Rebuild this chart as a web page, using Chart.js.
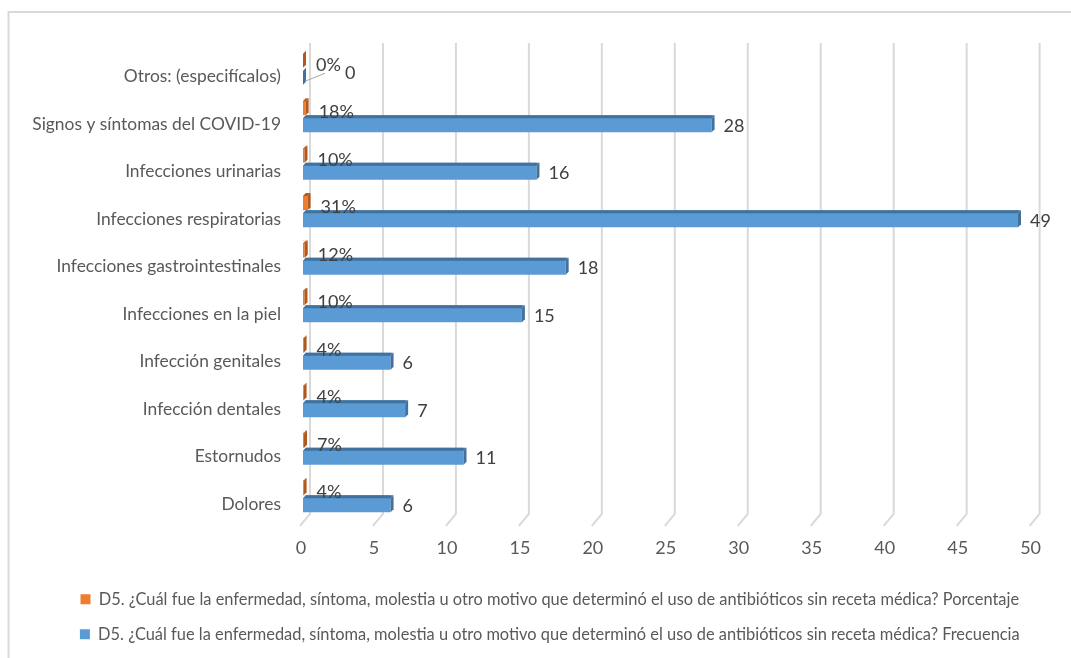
<!DOCTYPE html>
<html>
<head>
<meta charset="utf-8">
<script src="https://cdn.jsdelivr.net/npm/chart.js@4.4.1/dist/chart.umd.min.js"></script>
<style>
    html, body { margin: 0; padding: 0; background: #fff; overflow: hidden; }
    #wrap { position: relative; width: 1071px; height: 658px; }
</style>
</head>
<body>
<div id="wrap"><canvas id="chart" width="1071" height="658"></canvas></div>
<script>
const categories = [
    'Otros: (especifícalos)',
    'Signos y síntomas del COVID-19',
    'Infecciones urinarias',
    'Infecciones respiratorias',
    'Infecciones gastrointestinales',
    'Infecciones en la piel',
    'Infección genitales',
    'Infección dentales',
    'Estornudos',
    'Dolores',
];
const porcentaje = [0, 0.18, 0.10, 0.31, 0.12, 0.10, 0.04, 0.04, 0.07, 0.04];
const frecuencia = [0, 28, 16, 49, 18, 15, 6, 7, 11, 6];
const xTicks = [0, 5, 10, 15, 20, 25, 30, 35, 40, 45, 50];
const seriesNames = [
    'D5. ¿Cuál fue la enfermedad, síntoma, molestia u otro motivo que determinó el uso de antibióticos sin receta médica? Porcentaje',
    'D5. ¿Cuál fue la enfermedad, síntoma, molestia u otro motivo que determinó el uso de antibióticos sin receta médica? Frecuencia',
];

const palette = {
    orange: '#ED7D31',
    orangeDark: '#B0591F',
    blue: '#5B9BD5',
    blueDark: '#41719C',
    grid: '#d9d9d9',
    axis: '#595959',
    label: '#404040',
};
const FONT = 'Lato';

// outer chart border (left + top only are visible)
const frame = {
    id: 'frame',
    beforeDraw(chart) {
        const { ctx, width, height } = chart;
        ctx.save();
        ctx.strokeStyle = palette.grid;
        ctx.lineWidth = 2;
        ctx.beginPath();
        ctx.moveTo(8.5, height);
        ctx.lineTo(8.5, 12);
        ctx.lineTo(width, 12);
        ctx.stroke();
        ctx.restore();
    },
};

// the legend sits a bit right of the canvas centre in the original
const legendShift = {
    id: 'legendShift',
    afterLayout(chart) {
        chart.legend.left += 23.5;
        chart.legend.right += 23.5;
    },
};

// 3D back-wall gridlines with the slanted floor edge
const grid3d = {
    id: 'grid3d',
    beforeDatasetsDraw(chart) {
        const { ctx, chartArea, scales: { x } } = chart;
        ctx.save();
        ctx.strokeStyle = palette.grid;
        ctx.lineWidth = 2;
        xTicks.forEach(v => {
            const px = x.getPixelForValue(v);
            ctx.beginPath();
            ctx.moveTo(px + 7, chartArea.top - 1);
            ctx.lineTo(px + 7, chartArea.bottom - 5);
            ctx.lineTo(px - 3, chartArea.bottom + 7);
            ctx.stroke();
        });
        ctx.restore();
    },
};

// darker top and end faces so the bars look like the Excel 3D bars
const faces = {
    id: 'faces',
    afterDatasetsDraw(chart) {
        const { ctx } = chart;
        const d = 3;
        ctx.save();
        chart.data.datasets.forEach((ds, di) => {
            chart.getDatasetMeta(di).data.forEach(bar => {
                const { x, y, base, height } = bar.getProps(['x', 'y', 'base', 'height'], true);
                const top = y - height / 2;
                const bottom = y + height / 2;
                ctx.fillStyle = '#fff';
                ctx.beginPath();
                ctx.moveTo(base, top);
                ctx.lineTo(base + d, top);
                ctx.lineTo(base, top + d);
                ctx.closePath();
                ctx.fill();
                ctx.fillStyle = ds.sideColor;
                ctx.beginPath();
                ctx.moveTo(base, top + d);
                ctx.lineTo(base + d, top);
                ctx.lineTo(x + d, top);
                ctx.lineTo(x, top + d);
                ctx.closePath();
                ctx.fill();
                ctx.beginPath();
                ctx.moveTo(x, top + d);
                ctx.lineTo(x + d, top);
                ctx.lineTo(x + d, bottom - d);
                ctx.lineTo(x, bottom);
                ctx.closePath();
                ctx.fill();
            });
        });
        ctx.restore();
    },
};

const valueLabels = {
    id: 'valueLabels',
    afterDatasetsDraw(chart) {
        const { ctx } = chart;
        ctx.save();
        ctx.font = `18px ${FONT}`;
        ctx.fillStyle = palette.label;
        ctx.textAlign = 'left';
        ctx.textBaseline = 'middle';
        chart.getDatasetMeta(0).data.forEach((bar, i) => {
            ctx.fillText(`${Math.round(porcentaje[i] * 100)}%`, bar.x + 13, bar.y + 6);
        });
        chart.getDatasetMeta(1).data.forEach((bar, i) => {
            if (frecuencia[i] === 0) {
                ctx.strokeStyle = '#a6a6a6';
                ctx.lineWidth = 1;
                ctx.beginPath();
                ctx.moveTo(bar.x + 2, bar.y + 5);
                ctx.lineTo(bar.x + 22, bar.y - 3);
                ctx.stroke();
                ctx.fillText(String(frecuencia[i]), bar.x + 42, bar.y - 3);
            } else {
                ctx.fillText(String(frecuencia[i]), bar.x + 12, bar.y + 2);
            }
        });
        ctx.restore();
    },
};

new Chart(document.getElementById('chart'), {
    type: 'bar',
    data: {
        labels: categories,
        datasets: [
            { label: seriesNames[0], data: porcentaje, backgroundColor: palette.orange, sideColor: palette.orangeDark },
            { label: seriesNames[1], data: frecuencia, backgroundColor: palette.blue, sideColor: palette.blueDark },
        ],
    },
    options: {
        indexAxis: 'y',
        responsive: false,
        animation: false,
        categoryPercentage: 0.72,
        barPercentage: 1,
        layout: { padding: { left: 20, right: 38.4, top: 44, bottom: 5.5 } },
        plugins: {
            tooltip: { enabled: false },
            legend: {
                position: 'bottom',
                labels: {
                    boxWidth: 10,
                    boxHeight: 10,
                    padding: 18.6,
                    color: palette.axis,
                    font: { family: FONT, size: 16.4 },
                },
            },
        },
        scales: {
            x: {
                min: 0,
                max: 50,
                afterBuildTicks: scale => { scale.ticks = xTicks.map(value => ({ value })); },
                afterFit: scale => { scale.height = 53.6; },
                grid: { display: false, drawTicks: false },
                border: { display: false },
                ticks: { color: palette.axis, font: { family: FONT, size: 18 }, padding: 18, labelOffset: -2 },
            },
            y: {
                afterFit: scale => { scale.width = 283; },
                grid: { display: false, drawTicks: false },
                border: { display: false },
                ticks: { color: palette.axis, font: { family: FONT, size: 17.4 }, padding: 22, labelOffset: 9, autoSkip: false },
            },
        },
    },
    plugins: [frame, legendShift, grid3d, faces, valueLabels],
});
</script>
</body>
</html>
